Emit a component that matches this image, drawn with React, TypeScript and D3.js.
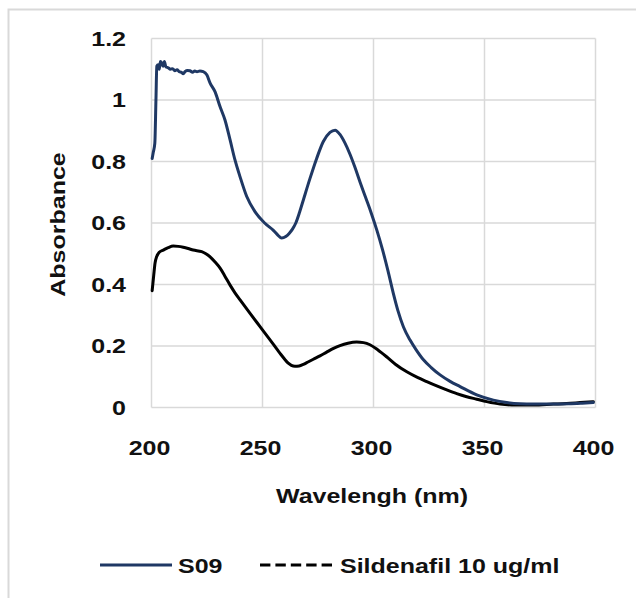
import React from "react";
import * as d3 from "d3";

const xTicks = [200, 250, 300, 350, 400];
const yTicks = [0, 0.2, 0.4, 0.6, 0.8, 1, 1.2];
const yTickLabels = ["0", "0.2", "0.4", "0.6", "0.8", "1", "1.2"];

const s09Wavelength = [
  200.3, 200.8, 201.5, 202.0, 202.4, 203.0, 203.5, 204.0, 204.6, 205.2, 205.8, 206.5,
  207.5, 208.5, 209.5, 210.5, 211.5, 212.5, 213.5, 214.3, 215.2, 216.2, 217.3, 218.5,
  219.5, 220.5, 221.8, 223.3, 224.9, 226.4, 228.6, 230.9, 233.1, 235.4, 237.6, 239.9,
  242.9, 246.6, 251.1, 254.9, 257.0, 258.6, 260.5, 262.0, 263.5, 265.0, 266.7, 268.4,
  271.4, 274.4, 277.4, 280.4, 282.7, 284.9, 287.0, 289.5, 291.6, 294.0, 296.5, 299.0,
  301.5, 304.0, 306.5, 308.9, 311.0, 313.5, 316.4, 319.0, 322.4, 326.0, 330.0, 334.5,
  339.0, 346.5, 354.0, 360.0, 366.0, 372.0, 380.0, 388.0, 394.0, 399.0,
];
const s09Absorbance = [
  0.81, 0.83, 0.86, 1.0, 1.11, 1.115, 1.1, 1.125, 1.12, 1.11, 1.125, 1.108,
  1.105, 1.1, 1.102, 1.095, 1.098, 1.092, 1.09, 1.085, 1.093, 1.096, 1.095, 1.09,
  1.094, 1.092, 1.094, 1.092, 1.082, 1.055, 1.027, 0.978, 0.935, 0.87, 0.805, 0.75,
  0.686, 0.637, 0.599, 0.576, 0.56, 0.551, 0.556, 0.566, 0.58, 0.6, 0.635, 0.675,
  0.745, 0.81, 0.865, 0.895, 0.902, 0.888, 0.862, 0.822, 0.782, 0.732, 0.682, 0.632,
  0.577, 0.515, 0.445, 0.372, 0.315, 0.262, 0.22, 0.19, 0.156, 0.13, 0.106, 0.085,
  0.068, 0.041, 0.024, 0.016, 0.012, 0.011, 0.011, 0.012, 0.014, 0.016,
];

const silWavelength = [
  200.3, 201.0, 201.6, 202.3, 203.0, 203.5, 205.3, 207.5, 209.8, 212.0, 214.3, 216.5,
  218.8, 222.6, 224.5, 226.4, 228.5, 230.9, 233.0, 235.4, 237.6, 239.9, 244.4, 248.9,
  253.4, 257.9, 260.0, 261.6, 263.0, 264.6, 266.5, 268.4, 270.5, 272.9, 275.9, 278.9,
  282.0, 284.9, 288.5, 292.4, 295.5, 298.4, 302.0, 305.9, 310.0, 315.0, 320.0, 324.0,
  328.5, 333.0, 337.5, 342.0, 346.5, 351.0, 357.0, 364.0, 372.0, 381.0, 387.0, 393.0,
  399.0,
];
const silAbsorbance = [
  0.38, 0.43, 0.47, 0.49, 0.5, 0.505, 0.512, 0.52, 0.525, 0.524, 0.521, 0.517,
  0.512, 0.507, 0.5, 0.49, 0.474, 0.453, 0.428, 0.398, 0.373, 0.35, 0.306, 0.263,
  0.22, 0.176, 0.157, 0.144, 0.137, 0.134, 0.135, 0.14, 0.148, 0.157, 0.168, 0.18,
  0.192, 0.201, 0.209, 0.213, 0.211, 0.204, 0.187, 0.165, 0.14, 0.116, 0.097, 0.084,
  0.07, 0.057, 0.045, 0.035, 0.027, 0.019, 0.011, 0.008, 0.008, 0.011, 0.013, 0.016,
  0.019,
];

const seriesNames = ["S09", "Sildenafil 10 ug/ml"];
const xTitle = "Wavelengh (nm)";
const yTitle = "Absorbance";

const W = 636;
const H = 598;
const left = 151.5;
const right = 595.5;
const top = 38.5;
const bottom = 407.5;

const FONT = "'Liberation Sans', Arial, sans-serif";
const SX = 1.25;
const GRID = "#d9d9d9";
const BLUE = "#1f3864";

function Txt({ x, y, anchor, children, rotate }: any) {
  const tr = `translate(${x},${y})${rotate ? ` rotate(${rotate})` : ""} scale(${SX},1)`;
  return (
    <g transform={tr}>
      <text
        x={0}
        y={0}
        textAnchor={anchor}
        fontFamily={FONT}
        fontWeight="bold"
        fontSize={20}
        fill="#111"
      >
        {children}
      </text>
    </g>
  );
}

export default function App() {
  const x = d3.scaleLinear().domain([200, 400]).range([left, right]);
  const y = d3.scaleLinear().domain([0, 1.2]).range([bottom, top]);
  const line = d3
    .line<[number, number]>()
    .x((d) => x(d[0]))
    .y((d) => y(d[1]))
    .curve(d3.curveMonotoneX);

  const s09 = s09Wavelength.map((w, i) => [w, s09Absorbance[i]] as [number, number]);
  const sil = silWavelength.map((w, i) => [w, silAbsorbance[i]] as [number, number]);

  return (
    <svg
      width={W}
      height={H}
      style={{ position: "absolute", left: 0, top: 0, background: "#fff" }}
    >
      <rect x={0} y={0} width={W} height={H} fill="#fff" />
      <rect x={8.5} y={9.5} width={W + 20} height={H + 20} fill="none" stroke={GRID} strokeWidth={2} />

      {yTicks.map((t) => (
        <line key={"h" + t} x1={left} x2={right} y1={y(t)} y2={y(t)} stroke={GRID} strokeWidth={1.5} />
      ))}
      {xTicks.map((t) => (
        <line key={"v" + t} x1={x(t)} x2={x(t)} y1={top} y2={bottom} stroke={GRID} strokeWidth={1.5} />
      ))}

      <path d={line(sil) || ""} fill="none" stroke="#000" strokeWidth={3} strokeLinejoin="round" strokeLinecap="round" />
      <path d={line(s09) || ""} fill="none" stroke={BLUE} strokeWidth={3} strokeLinejoin="round" strokeLinecap="round" />

      {yTicks.map((t, i) => (
        <Txt key={"yl" + t} x={126} y={y(t) + 7} anchor="end">
          {yTickLabels[i]}
        </Txt>
      ))}
      {xTicks.map((t) => (
        <Txt key={"xl" + t} x={x(t) - 2} y={455} anchor="middle">
          {String(t)}
        </Txt>
      ))}

      <Txt x={372} y={503} anchor="middle">
        {xTitle}
      </Txt>
      <Txt x={65} y={224.5} anchor="middle" rotate={-90}>
        {yTitle}
      </Txt>

      <line x1={100} x2={172} y1={565} y2={565} stroke={BLUE} strokeWidth={3} />
      <Txt x={178} y={573} anchor="start">
        {seriesNames[0]}
      </Txt>
      <line x1={260} x2={332} y1={565} y2={565} stroke="#000" strokeWidth={3} strokeDasharray="10.4,5" />
      <Txt x={340} y={573} anchor="start">
        {seriesNames[1]}
      </Txt>
    </svg>
  );
}
